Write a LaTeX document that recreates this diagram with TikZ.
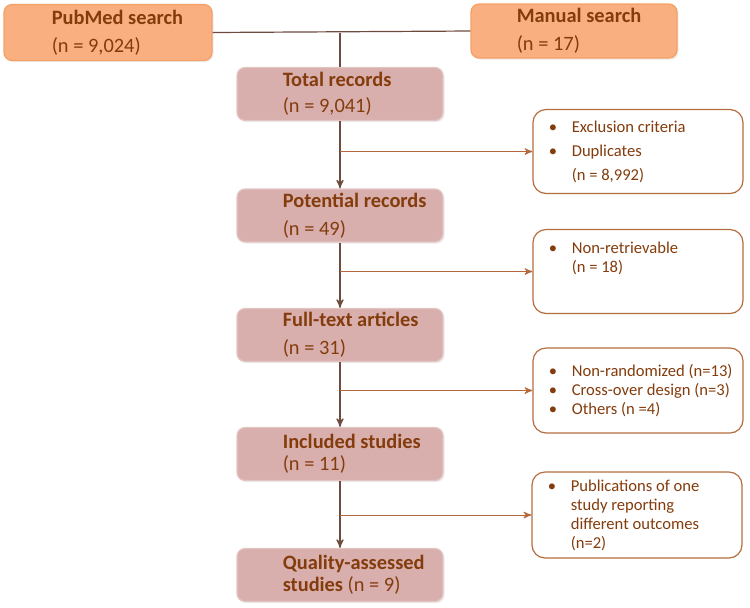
\documentclass[tikz,border=0pt]{standalone}
\usepackage{fontspec}
\setmainfont{Carlito}
\usepackage{tikz}
\usetikzlibrary{shapes,arrows,positioning,shadows}

\definecolor{txtbrown}{HTML}{843C0C}
\definecolor{orangefill}{HTML}{F9AF7F}
\definecolor{orangeline}{HTML}{F3A067}
\definecolor{pinkfill}{HTML}{D8AFAD}
\definecolor{pinkline}{HTML}{E3C6C4}
\definecolor{boxline}{HTML}{B56D3E}
\definecolor{spineline}{HTML}{6E4B3E}
\definecolor{branchline}{HTML}{B5683C}

\newcommand{\bul}{\makebox[11.5pt][l]{\textbullet}}
\newcommand{\bulgap}{\hspace*{11.5pt}}

\tikzset{
	searchbox/.style={draw=orangeline, fill=orangefill, rounded corners=4pt, line width=0.6pt, minimum width=104pt, minimum height=28pt, drop shadow={opacity=0.15, shadow xshift=0.8pt, shadow yshift=-0.8pt}},
	recordbox/.style={draw=pinkline, fill=pinkfill, rounded corners=4pt, line width=0.6pt, minimum width=103pt, minimum height=26.5pt, drop shadow={opacity=0.15, shadow xshift=0.8pt, shadow yshift=-0.8pt}},
	excludebox/.style={draw=boxline, fill=white, rounded corners=6.5pt, line width=0.6pt, minimum width=105pt, minimum height=42pt},
	boxtext/.style={anchor=west, align=left, inner sep=0pt, text=txtbrown, font=\fontsize{10.2}{11}\selectfont},
	exctext/.style={anchor=west, align=left, inner sep=0pt, text=txtbrown, font=\fontsize{8.3}{9.5}\selectfont},
	spine/.style={draw=spineline, line width=0.6pt},
	branch/.style={draw=branchline, line width=0.5pt, -stealth'}
}

\begin{document}
\begin{tikzpicture}[x=0.5pt, y=-0.5pt]
		\useasboundingbox (0,0) rectangle (750,607);
		
		\node[searchbox] (pubmed) at (108,32.5) {};
		\node[boxtext] (pubmed-txt) at ([xshift=24pt]pubmed.west) {\textbf{PubMed search}\\[3pt](n = 9,024)};
		\node[searchbox, minimum width=103pt, minimum height=27pt] (manual) at (574,31) {};
		\node[boxtext] (manual-txt) at ([xshift=23pt]manual.west) {\textbf{Manual search}\\[3pt](n = 17)};
		
		\node[recordbox] (total) at (340,94) {};
		\node[boxtext] (total-txt) at ([xshift=23pt]total.west) {\textbf{Total records}\\[2pt](n = 9,041)};
		\node[recordbox] (potential) at (340,215.5) {};
		\node[boxtext] (potential-txt) at ([xshift=23pt]potential.west) {\textbf{Potential records}\\[3pt](n = 49)};
		\node[recordbox] (fulltext) at (340,335) {};
		\node[boxtext] (fulltext-txt) at ([xshift=23pt]fulltext.west) {\textbf{Full-text articles}\\[3pt](n = 31)};
		\node[recordbox] (included) at (340,454) {};
		\node[boxtext] (included-txt) at ([xshift=23pt]included.west) {\textbf{Included studies}\\(n = 11)};
		\node[recordbox] (quality) at (340,575) {};
		\node[boxtext] (quality-txt) at ([xshift=23pt]quality.west) {\textbf{Quality-assessed}\\\textbf{studies} (n = 9)};
		
		\node[excludebox] (excl) at (638,151.5) {};
		\node[exctext, font=\fontsize{8.3}{12}\selectfont] (excl-txt) at ([xshift=8pt]excl.west) {\bul Exclusion criteria\\\bul Duplicates\\\bulgap (n = 8,992)};
		\node[excludebox] (nonretr) at (638,271.5) {};
		\node[exctext] (nonretr-txt) at ([xshift=8pt, yshift=6.5pt]nonretr.west) {\bul Non-retrievable\\\bulgap (n = 18)};
		\node[excludebox, minimum height=42.5pt] (nonrand) at (638,390.5) {};
		\node[exctext] (nonrand-txt) at ([xshift=8pt]nonrand.west) {\bul Non-randomized (n=13)\\\bul Cross-over design (n=3)\\\bul Others (n =4)};
		\node[excludebox, minimum height=43pt] (pubs) at (637,515) {};
		\node[exctext] (pubs-txt) at ([xshift=8pt]pubs.west) {\bul Publications of one\\\bulgap study reporting\\\bulgap different outcomes\\\bulgap (n=2)};
		
		\draw[spine] (pubmed.east) -- (manual.west);
		\draw[spine] (pubmed.east -| total.north) -- (total.north);
		\draw[spine, -stealth'] (total) -- (potential);
		\draw[spine, -stealth'] (potential) -- (fulltext);
		\draw[spine, -stealth'] (fulltext) -- (included);
		\draw[spine, -stealth'] (included) -- (quality);
		\draw[branch] (total.south |- excl.west) -- (excl.west);
		\draw[branch] (potential.south |- nonretr.west) -- (nonretr.west);
		\draw[branch] (fulltext.south |- nonrand.west) -- (nonrand.west);
		\draw[branch] (included.south |- pubs.west) -- (pubs.west);
		
	\end{tikzpicture}
\end{document}
